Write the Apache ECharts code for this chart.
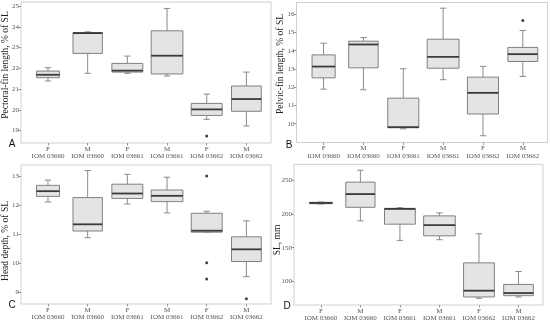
<!DOCTYPE html>
<html>
<head>
<meta charset="utf-8">
<script src="https://cdn.jsdelivr.net/npm/echarts@6/dist/echarts.min.js"></script>
<style>html,body{margin:0;padding:0;background:#fff;}#c{width:550px;height:322px;}</style>
</head>
<body>
<div id="c"></div>
<script>
// ---- categories ----
const sexLabels = ['F', 'M', 'F', 'M', 'F', 'M'];
const groupLabels = ['IOM 03660', 'IOM 03660', 'IOM 03661', 'IOM 03661', 'IOM 03662', 'IOM 03662'];

// ---- Panel A: Pectoral-fin length, % of SL ----
const aLow  = [21.39, 21.76, 21.76, 21.63, 19.54, 19.22];
const aQ1   = [21.55, 22.72, 21.82, 21.73, 19.73, 19.93];
const aMed  = [21.69, 23.70, 21.89, 22.61, 20.02, 20.52];
const aQ3   = [21.87, 23.73, 22.24, 23.81, 20.31, 21.15];
const aHigh = [22.03, 23.76, 22.59, 24.89, 20.76, 21.82];
const aOut  = [[5, 18.74]];
const aTicks = [19, 20, 21, 22, 23, 24, 25];

// ---- Panel B: Pelvic-fin length, % of SL ----
const bLow  = [11.89, 11.86, 9.72, 12.41, 9.34, 12.59];
const bQ1   = [12.51, 13.06, 9.78, 13.04, 10.53, 13.41];
const bMed  = [13.13, 14.34, 9.81, 13.66, 11.69, 13.81];
const bQ3   = [13.77, 14.52, 11.40, 14.63, 12.55, 14.18];
const bHigh = [14.41, 14.72, 13.01, 16.33, 13.14, 15.11];
const bOut  = [[6, 15.65]];
const bTicks = [10, 11, 12, 13, 14, 15, 16];

// ---- Panel C: Head depth, % of SL ----
const cLow  = [12.10, 10.87, 12.03, 11.72, 11.06, 9.53];
const cQ1   = [12.29, 11.10, 12.22, 12.11, 11.06, 10.05];
const cMed  = [12.47, 11.33, 12.39, 12.31, 11.11, 10.47];
const cQ3   = [12.67, 12.25, 12.71, 12.51, 11.71, 10.90];
const cHigh = [12.85, 13.18, 13.05, 12.95, 11.78, 11.45];
const cOut  = [[5, 12.99], [5, 10.01], [5, 9.45], [6, 8.77]];
const cTicks = [9, 10, 11, 12, 13];

// ---- Panel D: SL, mm ----
const dLow  = [214.7, 189.7, 160.8, 161.8, 75.0, 77.0];
const dQ1   = [215.2, 209.8, 184.8, 167.6, 77.0, 78.9];
const dMed  = [216.2, 229.4, 207.4, 183.3, 86.3, 82.8];
const dQ3   = [217.2, 247.1, 208.3, 197.1, 127.5, 95.6];
const dHigh = [217.6, 264.7, 209.3, 201.5, 170.6, 114.7];
const dOut  = [];
const dTicks = [100, 150, 200, 250];

// ---- styles / layout ----
const BOX_W = [0.58, 0.74, 0.78, 0.80, 0.78, 0.75]; // box widths in category units
const CAP_W = 0.16;
const FILL = '#e4e4e4', EDGE = '#808080', MEDC = '#3a3a3a', WHISK = '#8a8a8a';
const SERIF = 'Liberation Serif';
const catPos = [1, 2, 3, 4, 5, 6];

const panels = [
  { low: aLow, q1: aQ1, med: aMed, q3: aQ3, high: aHigh, out: aOut, ticks: aTicks, min: 18.4, max: 25.2,
    grid: { left: 21, top: 2, width: 250, height: 141 } },
  { low: bLow, q1: bQ1, med: bMed, q3: bQ3, high: bHigh, out: bOut, ticks: bTicks, min: 8.97, max: 16.64,
    grid: { left: 296.5, top: 2.5, width: 251, height: 140 } },
  { low: cLow, q1: cQ1, med: cMed, q3: cQ3, high: cHigh, out: cOut, ticks: cTicks, min: 8.59, max: 13.37,
    grid: { left: 21, top: 165, width: 250, height: 139 } },
  { low: dLow, q1: dQ1, med: dMed, q3: dQ3, high: dHigh, out: dOut, ticks: dTicks, min: 65.1, max: 273.5,
    grid: { left: 294, top: 164.3, width: 249, height: 141.7 } }
];

const grids = [], xAxes = [], yAxes = [], series = [];
panels.forEach((p, i) => {
  grids.push(Object.assign({ show: true, borderColor: '#cfcfcf', borderWidth: 1, backgroundColor: 'transparent' }, p.grid));
  xAxes.push({
    gridIndex: i, type: 'value', min: 0.32, max: 6.62,
    axisLine: { show: false }, splitLine: { show: false },
    axisTick: { show: true, customValues: catPos, length: 2.5, lineStyle: { color: '#999' } },
    axisLabel: {
      customValues: catPos, margin: 2, fontSize: 7, lineHeight: 7.5, color: '#555', fontFamily: SERIF,
      formatter: v => { const k = Math.round(v) - 1; return sexLabels[k] + '\n' + groupLabels[k]; }
    }
  });
  yAxes.push({
    gridIndex: i, type: 'value', min: p.min, max: p.max,
    axisLine: { show: false }, splitLine: { show: false },
    axisTick: { show: true, customValues: p.ticks, length: 2.5, lineStyle: { color: '#999' } },
    axisLabel: { customValues: p.ticks, margin: 2, fontSize: 7, color: '#555', fontFamily: SERIF }
  });
  const data = catPos.map((x, k) => [x, p.low[k], p.q1[k], p.med[k], p.q3[k], p.high[k], BOX_W[k]]);
  series.push({
    type: 'custom', xAxisIndex: i, yAxisIndex: i, data: data,
    renderItem: (params, api) => {
      const x = api.value(0);
      const w = api.value(6);
      const pLow = api.coord([x, api.value(1)]);
      const pQ1 = api.coord([x, api.value(2)]);
      const pMed = api.coord([x, api.value(3)]);
      const pQ3 = api.coord([x, api.value(4)]);
      const pHigh = api.coord([x, api.value(5)]);
      const half = api.size([w, 0])[0] / 2;
      const capHalf = api.size([CAP_W, 0])[0] / 2;
      const cx = pMed[0];
      const ls = { stroke: WHISK, lineWidth: 1 };
      return {
        type: 'group',
        children: [
          { type: 'line', shape: { x1: cx, y1: pLow[1], x2: cx, y2: pQ1[1] }, style: ls },
          { type: 'line', shape: { x1: cx, y1: pQ3[1], x2: cx, y2: pHigh[1] }, style: ls },
          { type: 'line', shape: { x1: cx - capHalf, y1: pLow[1], x2: cx + capHalf, y2: pLow[1] }, style: ls },
          { type: 'line', shape: { x1: cx - capHalf, y1: pHigh[1], x2: cx + capHalf, y2: pHigh[1] }, style: ls },
          { type: 'rect', shape: { x: cx - half, y: pQ3[1], width: 2 * half, height: pQ1[1] - pQ3[1] },
            style: { fill: FILL, stroke: EDGE, lineWidth: 1 } },
          { type: 'line', shape: { x1: cx - half, y1: pMed[1], x2: cx + half, y2: pMed[1] },
            style: { stroke: MEDC, lineWidth: 1.8 } }
        ]
      };
    }
  });
  series.push({
    type: 'scatter', xAxisIndex: i, yAxisIndex: i, data: p.out,
    symbolSize: 3, itemStyle: { color: '#111' }, silent: true
  });
});

const nameStyle = (txt, x, y) => ({
  type: 'text', x: x, y: y, rotation: Math.PI / 2,
  style: { text: txt, fontSize: 9.5, fontFamily: SERIF, fill: '#222', align: 'center', verticalAlign: 'middle' }
});
const letter = (txt, x, y) => ({
  type: 'text', x: x, y: y,
  style: { text: txt, fontSize: 10, fontFamily: 'Liberation Sans', fill: '#111', align: 'center', verticalAlign: 'middle' }
});

const chart = echarts.init(document.getElementById('c'), null, { renderer: 'canvas' });
chart.setOption({
  animation: false,
  backgroundColor: '#fff',
  grid: grids, xAxis: xAxes, yAxis: yAxes, series: series,
  graphic: [
    nameStyle('Pectoral-fin length, % of SL', 5.5, 65),
    nameStyle('Pelvic-fin length, % of SL', 280.5, 64),
    nameStyle('Head depth, % of SL', 5.5, 241),
    nameStyle('SL, mm', 277.5, 240),
    letter('A', 12, 144),
    letter('B', 289, 145),
    letter('C', 12, 305),
    letter('D', 287, 306.5)
  ]
});
</script>
</body>
</html>
